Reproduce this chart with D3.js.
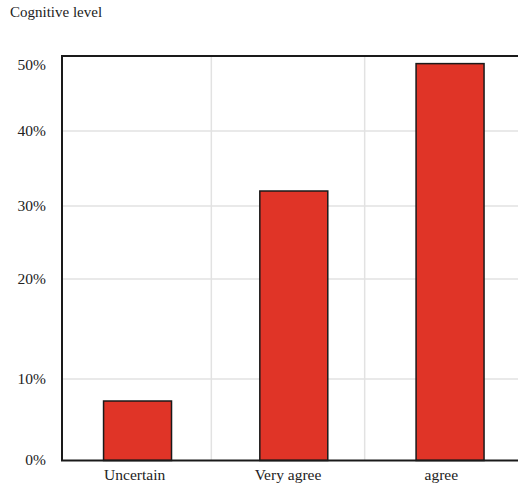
<!DOCTYPE html>
<html>
<head>
<meta charset="utf-8">
<script src="https://cdn.jsdelivr.net/npm/d3@7"></script>
<style>
  html, body { margin: 0; padding: 0; background: #fff; }
  svg { display: block; }
</style>
</head>
<body>
<svg id="chart" width="518" height="487"></svg>
<script>
const categories = ["Uncertain", "Very agree", "agree"];
const values = [7.3, 32.0, 50.2];
const yTicks = [0, 10, 20, 30, 40, 50];
const yTickLabels = ["0%", "10%", "20%", "30%", "40%", "50%"];
const title = "Cognitive level";

(function () {
const FONT = "'Liberation Serif', 'Times New Roman', serif";
const svg = d3.select("#chart").attr("font-family", FONT);
const mLeft = 62, mRight = 518, mTop = 56, mBottom = 460.5;

// uneven value axis as drawn in the reference
const y = d3.scaleLinear()
  .domain([0, 10, 20, 30, 40, 50, 51.3])
  .range([mBottom, 379, 279, 206, 131, 65, mTop]);

const xCat = d3.scaleBand().domain(categories).range([58, mRight]);
const xBar = d3.scaleBand().domain(categories).range([59.8, 527.8]).paddingInner(0.565).paddingOuter(0.28);

// title
svg.append("text").attr("x", 10).attr("y", 17).attr("font-family", FONT)
  .attr("font-size", 15).attr("fill", "#222").text(title);

// horizontal gridlines
svg.append("g").selectAll("line")
  .data(yTicks.filter(t => t > 0 && t < 50))
  .join("line")
  .attr("x1", mLeft).attr("x2", mRight)
  .attr("y1", d => y(d)).attr("y2", d => y(d))
  .attr("stroke", "#e2e2e2").attr("stroke-width", 1.5);

// vertical gridlines at category boundaries
svg.append("g").selectAll("line")
  .data(categories.slice(1))
  .join("line")
  .attr("x1", d => xCat(d)).attr("x2", d => xCat(d))
  .attr("y1", mTop).attr("y2", mBottom)
  .attr("stroke", "#e2e2e2").attr("stroke-width", 1.5);

// bars
svg.append("g").selectAll("rect")
  .data(values)
  .join("rect")
  .attr("x", (d, i) => xBar(categories[i]))
  .attr("width", xBar.bandwidth())
  .attr("y", d => y(d))
  .attr("height", d => mBottom - y(d))
  .attr("fill", "#e03427")
  .attr("stroke", "#1a1a1a").attr("stroke-width", 1.5);

// frame: left, top, bottom
svg.append("line").attr("x1", mLeft).attr("x2", mLeft).attr("y1", mTop).attr("y2", mBottom)
  .attr("stroke", "#1a1a1a").attr("stroke-width", 2);
svg.append("line").attr("x1", mLeft - 1).attr("x2", mRight).attr("y1", mTop).attr("y2", mTop)
  .attr("stroke", "#1a1a1a").attr("stroke-width", 2);
svg.append("line").attr("x1", mLeft - 1).attr("x2", mRight).attr("y1", mBottom).attr("y2", mBottom)
  .attr("stroke", "#1a1a1a").attr("stroke-width", 2);

// y tick labels
svg.append("g").selectAll("text")
  .data(yTicks)
  .join("text")
  .attr("font-family", FONT)
  .attr("x", 46)
  .attr("y", d => y(d))
  .attr("dy", "0.3em")
  .attr("text-anchor", "end")
  .attr("font-size", 15.5).attr("fill", "#222")
  .text((d, i) => yTickLabels[i]);

// x category labels
svg.append("g").selectAll("text")
  .data(categories)
  .join("text")
  .attr("font-family", FONT)
  .attr("x", d => xCat(d) + xCat.bandwidth() / 2)
  .attr("y", 480)
  .attr("text-anchor", "middle")
  .attr("font-size", 15.5).attr("fill", "#222")
  .text(d => d);
})();
</script>
</body>
</html>
